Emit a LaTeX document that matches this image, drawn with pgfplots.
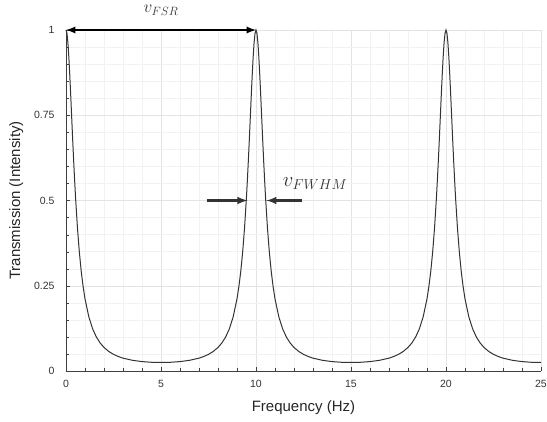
\documentclass[border=0pt]{standalone}
\usepackage{pgfplots}
\pgfplotsset{compat=1.18}
\usepackage{fontspec}
\setmainfont{Liberation Sans}

\begin{document}
\begin{tikzpicture}
\begin{axis}[
  scale only axis,
  width=475pt, height=341pt,
  xmin=0, xmax=25, ymin=0, ymax=1,
  xtick={0,5,...,25},
  ytick={0,0.25,0.5,0.75,1},
  yticklabels={0,0.25,0.5,0.75,1},
  minor x tick num=4, minor y tick num=4,
  grid=both,
  major grid style={gray!22, line width=0.5pt},
  minor grid style={gray!10, line width=0.4pt},
  axis lines=left,
  axis line style={-, black!75},
  tick align=inside,
  tick style={black!75},
  ticklabel style={font=\fontsize{10.5}{12}\selectfont, text=black!80},
  xticklabel style={yshift=-6pt},
  yticklabel style={xshift=-8pt},
  /pgf/number format/assume math mode=true,
  xlabel={Frequency (Hz)},
  ylabel={Transmission (Intensity)},
  label style={font=\fontsize{15}{17}\selectfont, text=black!85},
  xlabel style={yshift=-6pt},
  ylabel style={yshift=4pt},
  clip=false,
]
\addplot[black!80, line width=1pt] coordinates {
(0,1) (0.05,0.9905) (0.1,0.9630) (0.15,0.9204) (0.2,0.8667) (0.25,0.8064)
(0.3,0.7433) (0.35,0.6805) (0.4,0.6201) (0.45,0.5636) (0.5,0.5117)
(0.6,0.4221) (0.7,0.3502) (0.8,0.2931) (0.9,0.2478) (1.0,0.2117)
(1.2,0.1591) (1.4,0.1239) (1.6,0.0995) (1.8,0.0820) (2.0,0.0691)
(2.25,0.0573) (2.5,0.0488) (2.75,0.0425) (3.0,0.0377) (3.5,0.0313)
(4.0,0.0276) (4.5,0.0256) (5.0,0.0250) (5.5,0.0256) (6.0,0.0276)
(6.5,0.0313) (7.0,0.0377) (7.25,0.0425) (7.5,0.0488) (7.75,0.0573)
(8.0,0.0691) (8.2,0.0820) (8.4,0.0995) (8.6,0.1239) (8.8,0.1591)
(9.0,0.2117) (9.1,0.2478) (9.2,0.2931) (9.3,0.3502) (9.4,0.4221)
(9.5,0.5117) (9.55,0.5636) (9.6,0.6201) (9.65,0.6805) (9.7,0.7433)
(9.75,0.8064) (9.8,0.8667) (9.85,0.9204) (9.9,0.9630) (9.95,0.9905)
(10,1) (10.05,0.9905) (10.1,0.9630) (10.15,0.9204) (10.2,0.8667) (10.25,0.8064)
(10.3,0.7433) (10.35,0.6805) (10.4,0.6201) (10.45,0.5636) (10.5,0.5117)
(10.6,0.4221) (10.7,0.3502) (10.8,0.2931) (10.9,0.2478) (11.0,0.2117)
(11.2,0.1591) (11.4,0.1239) (11.6,0.0995) (11.8,0.0820) (12.0,0.0691)
(12.25,0.0573) (12.5,0.0488) (12.75,0.0425) (13.0,0.0377) (13.5,0.0313)
(14.0,0.0276) (14.5,0.0256) (15.0,0.0250) (15.5,0.0256) (16.0,0.0276)
(16.5,0.0313) (17.0,0.0377) (17.25,0.0425) (17.5,0.0488) (17.75,0.0573)
(18.0,0.0691) (18.2,0.0820) (18.4,0.0995) (18.6,0.1239) (18.8,0.1591)
(19.0,0.2117) (19.1,0.2478) (19.2,0.2931) (19.3,0.3502) (19.4,0.4221)
(19.5,0.5117) (19.55,0.5636) (19.6,0.6201) (19.65,0.6805) (19.7,0.7433)
(19.75,0.8064) (19.8,0.8667) (19.85,0.9204) (19.9,0.9630) (19.95,0.9905)
(20,1) (20.05,0.9905) (20.1,0.9630) (20.15,0.9204) (20.2,0.8667) (20.25,0.8064)
(20.3,0.7433) (20.35,0.6805) (20.4,0.6201) (20.45,0.5636) (20.5,0.5117)
(20.6,0.4221) (20.7,0.3502) (20.8,0.2931) (20.9,0.2478) (21.0,0.2117)
(21.2,0.1591) (21.4,0.1239) (21.6,0.0995) (21.8,0.0820) (22.0,0.0691)
(22.25,0.0573) (22.5,0.0488) (22.75,0.0425) (23.0,0.0377) (23.5,0.0313)
(24.0,0.0276) (24.5,0.0256) (25.0,0.0250)
};
% free spectral range
\draw[black, line width=2.2pt, -latex] (axis cs:5,1) -- (axis cs:0,1);
\draw[black, line width=2.2pt, -latex] (axis cs:5,1) -- (axis cs:10,1);
\node[inner sep=0pt, font=\fontsize{18}{20}\selectfont, text=black!80] at (axis cs:5,1.058) {$v_{FSR}$};
% full width at half maximum
\draw[black!80, line width=2.4pt, -latex] (axis cs:7.4,0.5) -- (axis cs:9.55,0.5);
\draw[black!80, line width=2.4pt, -latex] (axis cs:12.4,0.5) -- (axis cs:10.55,0.5);
\node[anchor=west, inner sep=0pt, font=\fontsize{20}{22}\selectfont, text=black!80] at (axis cs:11.4,0.55) {$v_{FWHM}$};
\end{axis}
\pgfresetboundingbox
\path (-66pt,-50pt) rectangle (481pt,371pt);
\end{tikzpicture}
\end{document}
